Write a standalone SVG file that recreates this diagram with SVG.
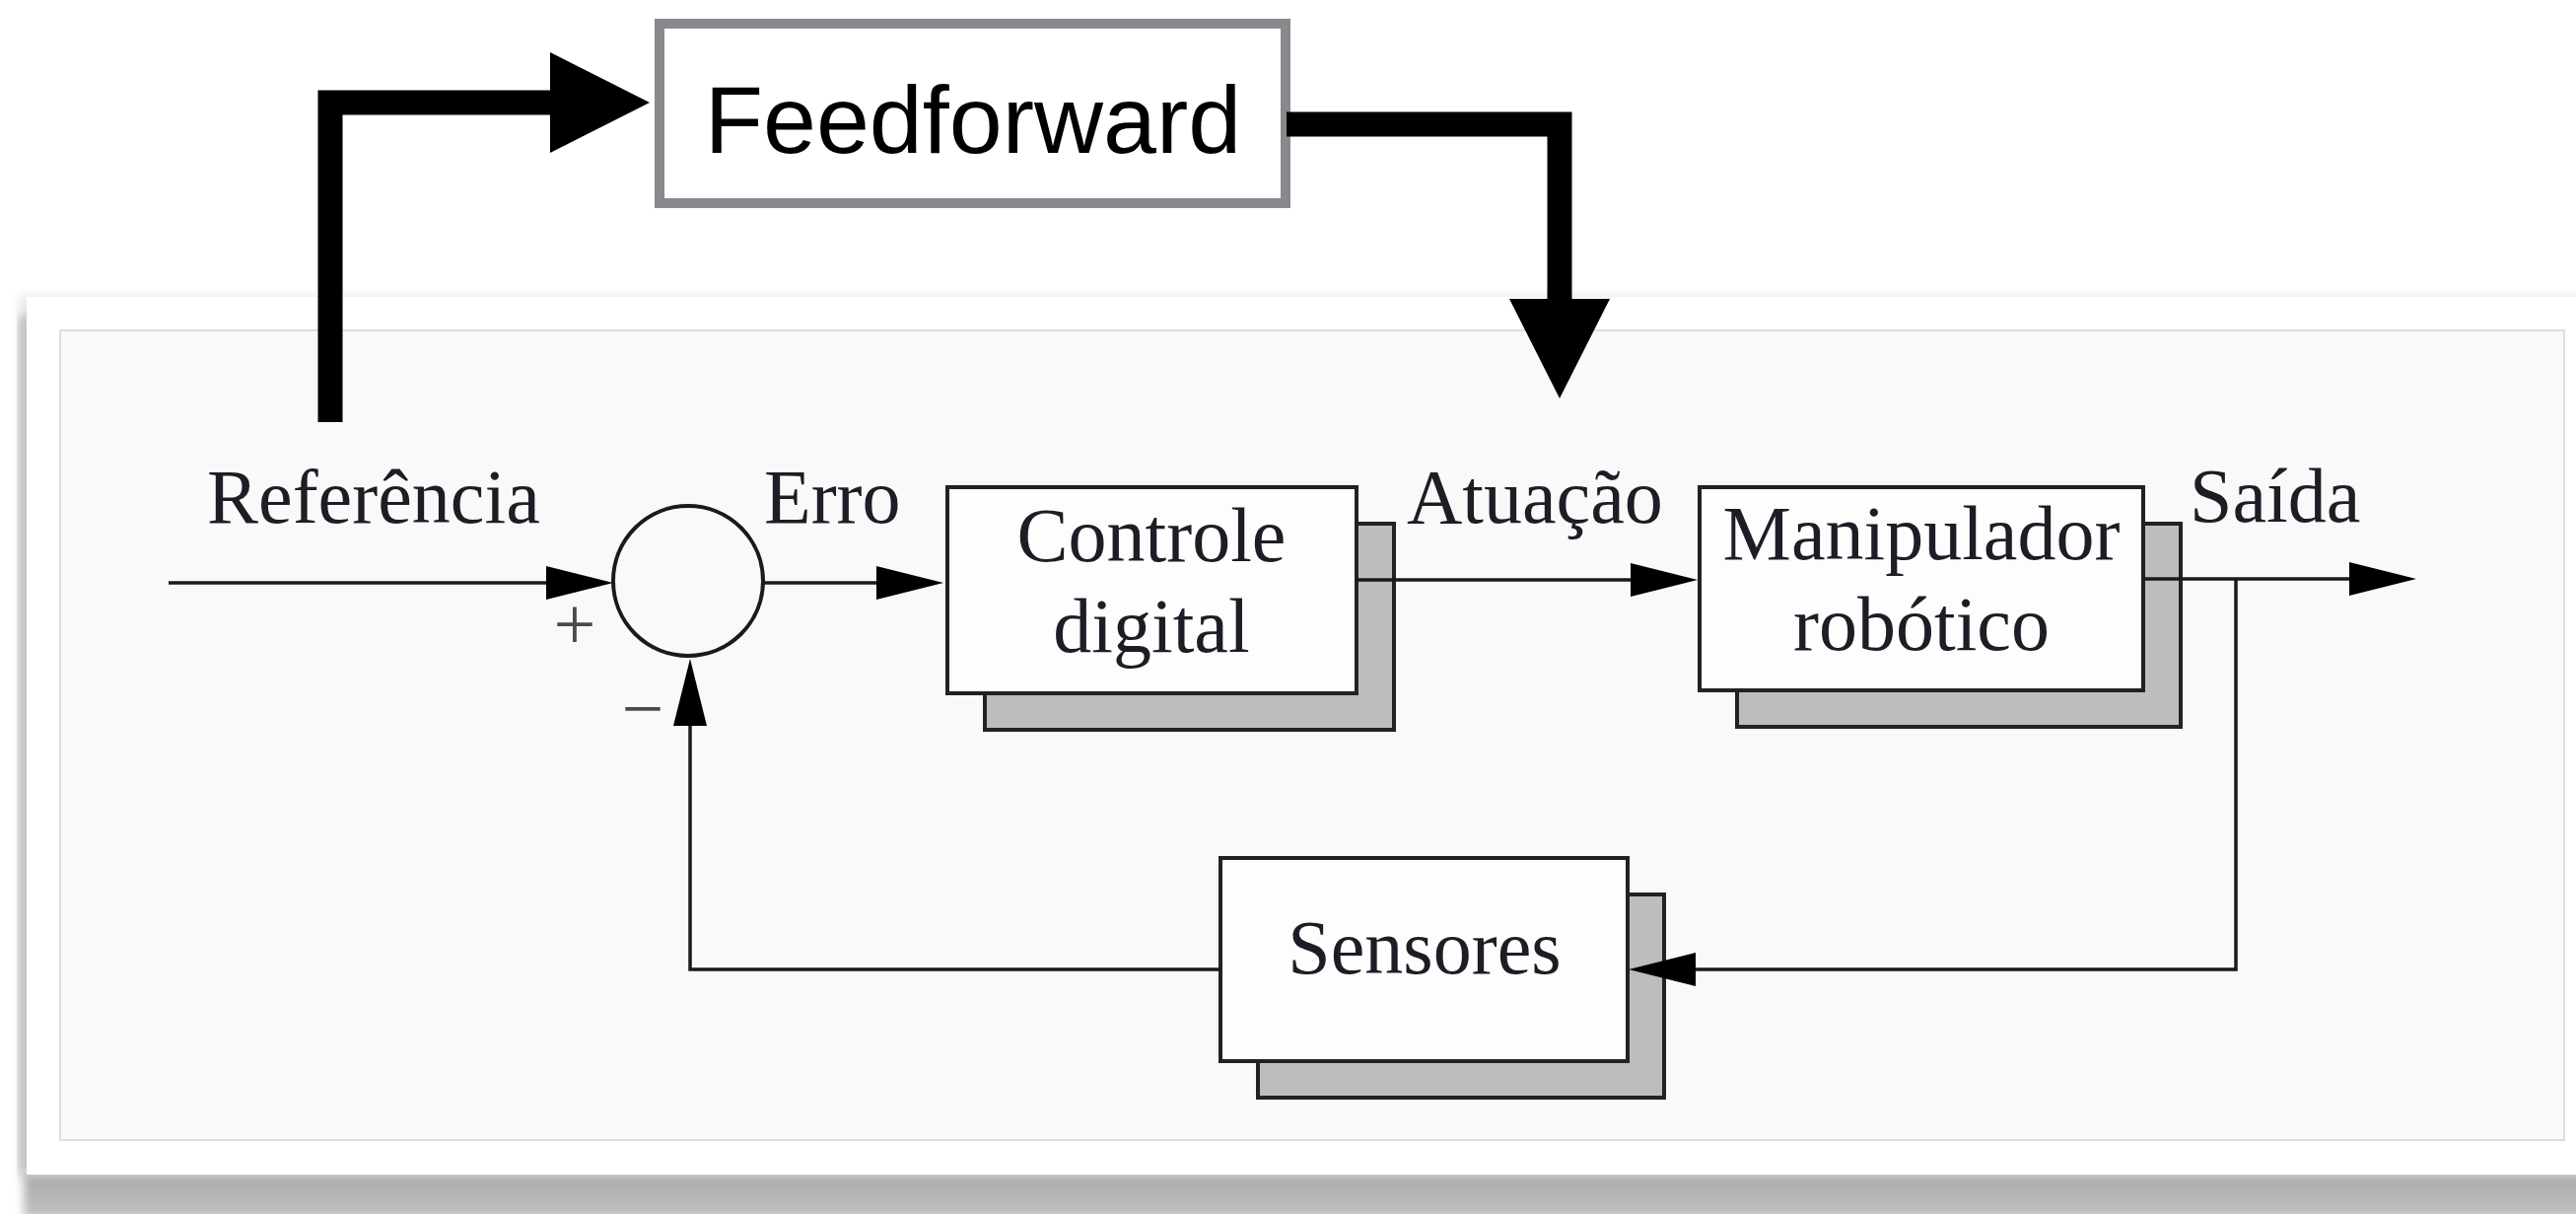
<svg xmlns="http://www.w3.org/2000/svg" width="2613" height="1231" viewBox="0 0 2613 1231">
  <style>
    .lbl { font-family: "Liberation Serif", "Times New Roman", serif; font-size: 78px; fill: #1d1d26; }
    .mid { text-anchor: middle; }
    .sign { font-family: "Liberation Serif", "Times New Roman", serif; font-size: 76px; fill: #4a4a4a; text-anchor: middle; }
    .box { fill: #fdfdfd; stroke: #222; stroke-width: 4; }
    .shadow { fill: #bdbdbd; stroke: #222; stroke-width: 4; }
    .wire { fill: none; stroke: #1a1a1a; stroke-width: 3.5; marker-end: url(#head); }
    .thick { fill: none; stroke: #000; stroke-width: 25; stroke-linejoin: miter; stroke-linecap: butt; marker-end: url(#bigHead); }
  </style>
  <defs>
    <marker id="head" markerUnits="userSpaceOnUse" markerWidth="70" markerHeight="36" refX="0" refY="17" orient="auto" overflow="visible">
      <path d="M0,0 L68,17 L0,34 Z" fill="#000"/>
    </marker>
    <marker id="bigHead" markerUnits="userSpaceOnUse" markerWidth="102" markerHeight="104" refX="0" refY="51" orient="auto" overflow="visible">
      <path d="M0,0 L101,51 L0,102 Z" fill="#000"/>
    </marker>
    <filter id="soft" x="-5%" y="-5%" width="110%" height="110%">
      <feGaussianBlur stdDeviation="5"/>
    </filter>
    <linearGradient id="floor" x1="0" y1="0" x2="0" y2="1">
      <stop offset="0" stop-color="#a9a9a9"/>
      <stop offset="1" stop-color="#c2c2c2"/>
    </linearGradient>
  </defs>

  <rect x="0" y="0" width="2613" height="1231" fill="#ffffff"/>

  <!-- framed panel with its shadow -->
  <g id="panel">
    <rect x="20" y="300" width="2640" height="897" fill="#e6e6e6" filter="url(#soft)"/>
    <rect x="18" y="320" width="20" height="870" fill="#c4c4c4" filter="url(#soft)"/>
    <rect x="24" y="1191" width="2640" height="45" fill="url(#floor)" filter="url(#soft)"/>
    <rect x="27" y="301" width="2640" height="890" fill="#ffffff"/>
    <rect x="61" y="335" width="2540" height="821" fill="#f9f9f9" stroke="#dedede" stroke-width="2"/>
  </g>

  <g id="summer">
    <circle cx="698" cy="589" r="76" fill="none" stroke="#1a1a1a" stroke-width="4"/>
    <text class="sign" x="583" y="658">+</text>
    <text class="sign" x="652" y="744">−</text>
  </g>

  <g id="controle">
    <rect class="shadow" x="999" y="531" width="415" height="209"/>
    <rect class="box" x="961" y="494" width="415" height="209"/>
    <text class="lbl mid" x="1168" y="569">Controle</text>
    <text class="lbl mid" x="1168" y="661">digital</text>
  </g>

  <g id="manipulador">
    <rect class="shadow" x="1762" y="531" width="450" height="206"/>
    <rect class="box" x="1724" y="494" width="450" height="206"/>
    <text class="lbl mid" x="1949" y="567">Manipulador</text>
    <text class="lbl mid" x="1949" y="659">robótico</text>
  </g>

  <g id="sensores">
    <rect class="shadow" x="1276" y="907" width="412" height="206"/>
    <rect class="box" x="1238" y="870" width="413" height="206"/>
    <text class="lbl mid" x="1445" y="987">Sensores</text>
  </g>

  <!-- thin signal lines, drawn over the box shadows -->
  <g id="connectors">
    <polyline class="wire" points="171,591 554,591"/>
    <polyline class="wire" points="775,591 889,591"/>
    <polyline class="wire" points="1376,588 1654,588"/>
    <polyline class="wire" points="2174,587 2383,587"/>
    <polyline class="wire" points="2268,587 2268,983 1720,983"/>
    <polyline class="wire" points="1238,983 700,983 700,736"/>
  </g>

  <g id="signal-labels">
    <text class="lbl" x="210" y="530">Referência</text>
    <text class="lbl" x="775" y="530">Erro</text>
    <text class="lbl" x="1427" y="530">Atuação</text>
    <text class="lbl" x="2221" y="529">Saída</text>
  </g>

  <g id="feedforward">
    <rect x="669" y="24" width="635" height="182" fill="#ffffff" stroke="#88898c" stroke-width="10"/>
    <text x="987" y="155" font-family="'Liberation Sans', Arial, sans-serif" font-size="97" fill="#000" text-anchor="middle">Feedforward</text>
  </g>

  <!-- feedforward path -->
  <g id="feedforward-connectors">
    <polyline class="thick" points="335,428 335,104 558,104"/>
    <polyline class="thick" points="1305,126 1582,126 1582,303"/>
  </g>
</svg>
